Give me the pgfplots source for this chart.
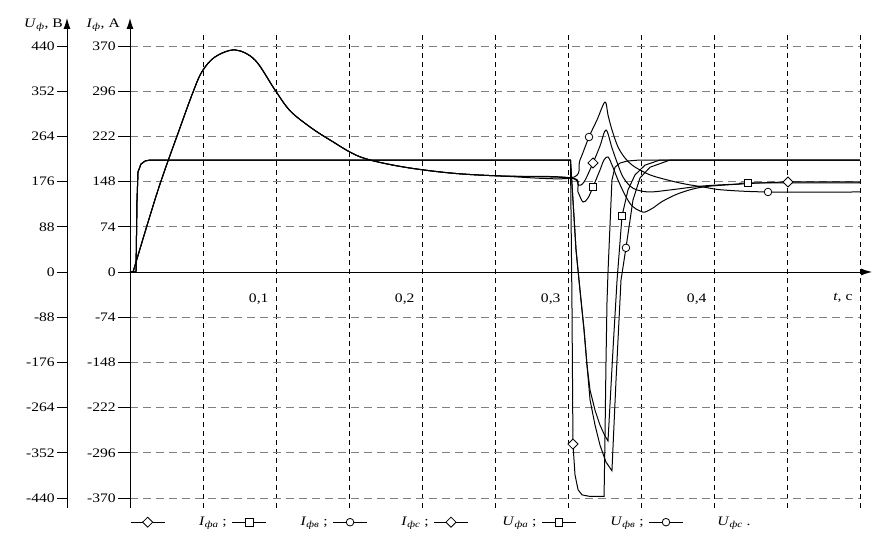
\documentclass[border=0pt]{standalone}
\usepackage{fontspec}
\setmainfont{Liberation Serif}[FakeStretch=1.2]
\usepackage{pgfplots}
\pgfplotsset{compat=1.18}
\usetikzlibrary{arrows.meta}
\begin{document}
\begin{tikzpicture}[font=\fontsize{13}{15}\selectfont]
\path[use as bounding box] (-130pt,-37pt) rectangle (745pt,508pt);
% ---------- voltage axis (left, U_f) ----------
\begin{axis}[
  at={(-63pt,0pt)}, anchor=south west,
  width=10pt, height=473pt, scale only axis,
  xmin=0, xmax=1, ymin=-459.5, ymax=461.4,
  axis y line=left, axis x line=none,
  y axis line style={-{Latex[length=11pt,width=7pt]}, shorten >=-17pt, line width=0.8pt},
  ytick={-440,-352,-264,-176,-88,0,88,176,264,352,440},
  tick align=outside, major tick length=10pt,
  ytick style={line width=0.8pt, black},
  /pgf/number format/assume math mode=true,
  yticklabel style={inner sep=2pt},
]
\end{axis}
% ---------- main axis (currents in A) ----------
\begin{axis}[
  at={(0pt,0pt)}, anchor=south west,
  width=730pt, height=473pt, scale only axis,
  xmin=0, xmax=0.5, ymin=-386.4, ymax=388.0,
  axis x line=middle, axis y line=left,
  x axis line style={-{Latex[length=11pt,width=7pt]}, shorten >=-12pt, line width=0.8pt},
  y axis line style={-{Latex[length=11pt,width=7pt]}, shorten >=-17pt, line width=0.8pt},
  hide obscured x ticks=false, hide obscured y ticks=false,
  xtick={0.1,0.2,0.3,0.4,0.5},
  minor xtick={0.05,0.15,0.25,0.35,0.45},
  xticklabels={{0,1},{0,2},{0,3},{0,4},{\textit{t}, с}},
  xtick style={draw=none}, minor tick style={draw=none},
  xticklabel style={anchor=north east, xshift=-4pt, yshift=-6pt},
  ytick={-370,-296,-222,-148,-74,0,74,148,222,296,370},
  tick align=outside, major tick length=12pt,
  ytick style={line width=0.8pt, black},
  /pgf/number format/assume math mode=true,
  yticklabel style={inner sep=2pt},
  xmajorgrids, xminorgrids, ymajorgrids,
  x grid style={black, dash pattern=on 5pt off 4pt, line width=0.6pt},
  y grid style={gray, dash pattern=on 8pt off 5pt, line width=0.9pt},
  clip=false,
  legend image code/.code={\draw[#1, mark repeat=2, mark phase=2] plot coordinates {(0pt,0pt) (17pt,0pt) (34pt,0pt)};},
  legend style={at={(axis description cs:-0.004,-0.03)}, anchor=west, draw=none, fill=none,
    legend columns=6, font=\fontsize{13}{15}\selectfont,
    /tikz/every odd column/.append style={column sep=34pt},
    /tikz/every even column/.append style={column sep=5pt},
    nodes={inner sep=0pt}},
  legend cell align=left,
  every axis plot/.append style={black, line width=1pt},
]
% ---- phase currents ----
\addplot[forget plot, smooth, tension=0.55] coordinates {
(0.0021,0) (0.0192,134.2) (0.0342,235.8) (0.0432,294.7) (0.0493,328.0) (0.0582,352.0) (0.0719,363.5) (0.0856,347.1) (0.0993,298.0) (0.1096,264.0) (0.1233,237.4) (0.1370,216.1) (0.1575,188.6) (0.1849,172.9) (0.2192,162.1) (0.2534,157.2) (0.3021,153.9)
(0.30685,142.4) (0.31096,147.3) (0.31712,178.5) (0.32192,206.3) (0.32603,232.5) (0.33014,203.0) (0.33425,175.2) (0.33767,155.5) (0.34247,140.8) (0.34726,134.3) (0.35616,131.0) (0.36986,134.3) (0.39247,140.8) (0.41781,144.1) (0.45068,147.3) (0.5,147.3)};
\addplot[forget plot, smooth, tension=0.55] coordinates {
(0.0021,0) (0.0192,134.2) (0.0342,235.8) (0.0432,294.7) (0.0493,328.0) (0.0582,352.0) (0.0719,363.5) (0.0856,347.1) (0.0993,298.0) (0.1096,264.0) (0.1233,237.4) (0.1370,216.1) (0.1575,188.6) (0.1849,172.9) (0.2192,162.1) (0.2534,157.2) (0.3021,153.9)
(0.30685,131.0) (0.31027,114.6) (0.31370,121.2) (0.31712,139.2) (0.32192,167.0) (0.32466,183.4) (0.32740,188.3) (0.33014,175.2) (0.33425,150.6) (0.33904,126.1) (0.34384,108.1) (0.34932,99.9) (0.35274,98.2) (0.35822,104.8) (0.36507,116.2) (0.37671,129.3) (0.39247,139.2) (0.41781,144.1) (0.42329,145.7) (0.5,145.7)};
\addplot[forget plot, smooth, tension=0.55] coordinates {
(0.0021,0) (0.0192,134.2) (0.0342,235.8) (0.0432,294.7) (0.0493,328.0) (0.0582,352.0) (0.0719,363.5) (0.0856,347.1) (0.0993,298.0) (0.1096,264.0) (0.1233,237.4) (0.1370,216.1) (0.1575,188.6) (0.1849,172.9) (0.2192,162.1) (0.2534,157.2) (0.3021,153.9)
(0.30822,183.4) (0.31438,221.0) (0.31986,248.9) (0.32534,278.3) (0.32740,257.0) (0.33014,232.5) (0.33425,204.7) (0.33904,186.6) (0.34384,175.2) (0.34932,167.0) (0.35822,157.2) (0.37671,145.7) (0.39247,139.2) (0.40616,134.3) (0.43699,131.0) (0.5,131.0)};
% ---- phase voltages (in V, mapped onto the current scale) ----
\addplot[forget plot, y filter/.expression={y*370/440}] coordinates {
(0,0) (0.0041,0) (0.0048,140) (0.0055,195) (0.0075,210) (0.0103,216) (0.0137,218) (0.3017,218)
(0.3027,-55) (0.3034,-335) (0.3048,-395) (0.3069,-424) (0.3096,-434) (0.3151,-437) (0.3247,-437) (0.3253,-330) (0.3260,-180) (0.3267,-60) (0.3274,0) (0.3301,179) (0.3322,204) (0.3356,212) (0.3404,216) (0.3493,218) (0.5,218)};
\addplot[forget plot, y filter/.expression={y*370/440}] coordinates {
(0,0) (0.0041,0) (0.0048,140) (0.0055,195) (0.0075,210) (0.0103,216) (0.0137,218) (0.3017,218)
(0.3034,140) (0.3055,43) (0.3082,-35) (0.3110,-113) (0.3130,-181) (0.3151,-230) (0.3185,-269) (0.3219,-298) (0.3253,-319) (0.3274,-329) (0.3308,-152) (0.3336,-16) (0.3370,109) (0.3411,160) (0.3459,189) (0.3527,208) (0.3630,218) (0.5,218)};
\addplot[forget plot, y filter/.expression={y*370/440}] coordinates {
(0,0) (0.0041,0) (0.0048,140) (0.0055,195) (0.0075,210) (0.0103,216) (0.0137,218) (0.3017,218)
(0.3034,140) (0.3055,43) (0.3082,-35) (0.3110,-113) (0.3130,-181) (0.3151,-249) (0.3185,-298) (0.3219,-337) (0.3260,-370) (0.3301,-387) (0.3329,-210) (0.3363,-16) (0.3397,47) (0.3445,140) (0.3493,183) (0.3562,204) (0.3699,218) (0.5,218)};
% ---- markers ----
\addplot[forget plot, only marks, mark=diamond*, mark size=5pt, mark options={fill=white, xscale=1.35, line width=0.8pt}] coordinates {(0.31712,178.5) (0.45068,147.3)};
\addplot[forget plot, only marks, mark=square*, mark size=3.8pt, mark options={fill=white, line width=0.8pt}] coordinates {(0.31712,139.2) (0.42329,145.7)};
\addplot[forget plot, only marks, mark=*, mark size=3.8pt, mark options={fill=white, line width=0.8pt}] coordinates {(0.31438,221.0) (0.43699,131.0)};
\addplot[forget plot, only marks, mark=diamond*, mark size=5pt, mark options={fill=white, xscale=1.35, line width=0.8pt}, y filter/.expression={y*370/440}] coordinates {(0.3034,-335)};
\addplot[forget plot, only marks, mark=square*, mark size=3.8pt, mark options={fill=white, line width=0.8pt}, y filter/.expression={y*370/440}] coordinates {(0.3370,109)};
\addplot[forget plot, only marks, mark=*, mark size=3.8pt, mark options={fill=white, line width=0.8pt}, y filter/.expression={y*370/440}] coordinates {(0.3397,47)};
% ---- legend ----
\addlegendimage{black, line width=0.8pt, mark=diamond*, mark size=5pt, mark options={fill=white, xscale=1.35}}
\addlegendentry{\textit{I}\textsubscript{\textit{фа}} ;}
\addlegendimage{black, line width=0.8pt, mark=square*, mark size=3.8pt, mark options={fill=white}}
\addlegendentry{\textit{I}\textsubscript{\textit{фв}} ;}
\addlegendimage{black, line width=0.8pt, mark=*, mark size=3.8pt, mark options={fill=white}}
\addlegendentry{\textit{I}\textsubscript{\textit{фс}} ;}
\addlegendimage{black, line width=0.8pt, mark=diamond*, mark size=5pt, mark options={fill=white, xscale=1.35}}
\addlegendentry{\textit{U}\textsubscript{\textit{фа}} ;}
\addlegendimage{black, line width=0.8pt, mark=square*, mark size=3.8pt, mark options={fill=white}}
\addlegendentry{\textit{U}\textsubscript{\textit{фв}} ;}
\addlegendimage{black, line width=0.8pt, mark=*, mark size=3.8pt, mark options={fill=white}}
\addlegendentry{\textit{U}\textsubscript{\textit{фс}} .}
% ---- axis titles ----
\node[anchor=east, inner sep=0pt] at ([xshift=-67pt, yshift=10pt]rel axis cs:0,1) {\textit{U}\textsubscript{\textit{ф}}, В};
\node[anchor=east, inner sep=0pt] at ([xshift=-10pt, yshift=10pt]rel axis cs:0,1) {\textit{I}\textsubscript{\textit{ф}}, А};
\end{axis}
\end{tikzpicture}
\end{document}
